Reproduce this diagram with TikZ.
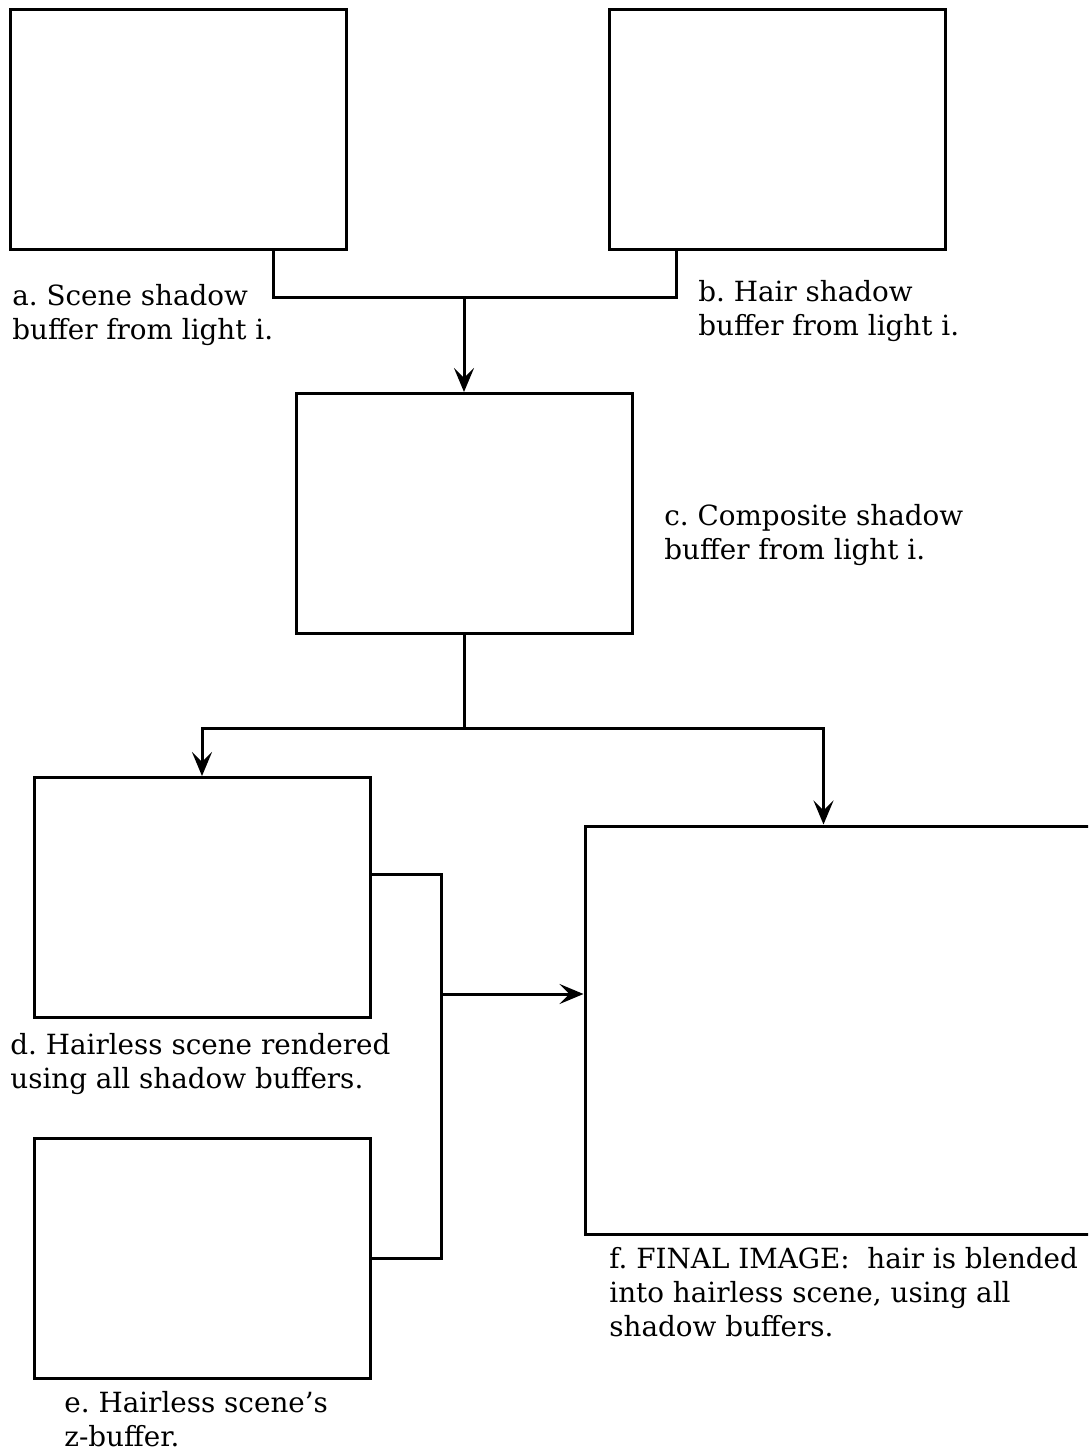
\documentclass[tikz,border=0pt]{standalone}
\usepackage{fontspec}
\setmainfont{DejaVu Serif}
\usetikzlibrary{arrows.meta}
\frenchspacing

\begin{document}
\begin{tikzpicture}[
  x=0.5pt, y=-0.5pt,
  buf/.style={draw, line width=1.5pt, minimum width=168pt, minimum height=120pt, inner sep=0pt},
  wire/.style={line width=1.5pt},
  arr/.style={line width=1.5pt, -{Stealth[length=12pt, width=10pt, inset=5pt]}},
  lbl/.style={anchor=west, align=left, inner sep=0pt, font=\fontsize{13.9}{17}\selectfont}
]
  \useasboundingbox (0,0) rectangle (1088,1452);
  \clip (0,0) rectangle (1088,1452);
  \node[buf] (a) at (178,129.5) {};
  \node[buf] (b) at (777,129.5) {};
  \node[buf] (c) at (464,513.5) {};
  \node[buf] (d) at (202,897.5) {};
  \node[buf] (e) at (202,1258) {};
  \node[buf, minimum width=257.5pt, minimum height=204pt] (f) at (842.5,1030) {};
  \node[lbl] (la) at (12,315) {a. Scene shadow\\buffer from light i.};
  \node[lbl] (lb) at (698,311) {b. Hair shadow\\buffer from light i.};
  \node[lbl] (lc) at (664,535) {c. Composite shadow\\buffer from light i.};
  \node[lbl] (ld) at (10,1064) {d. Hairless scene rendered\\using all shadow buffers.};
  \node[lbl] (le) at (64,1419) {e. Hairless scene's\\z-buffer.};
  \node[lbl] (lf) at (609,1292) {f. FINAL IMAGE:\ \ hair is blended\\into hairless scene, using all\\shadow buffers.};
  \coordinate (j1) at (464,297);
  \coordinate (j2) at (464,728);
  \coordinate (j3) at (441,994);
  \draw[wire] ([xshift=-37pt]a.south east) |- (j1) -| ([xshift=34.5pt]b.south west);
  \draw[arr] (j1) -- (c.north);
  \draw[wire] (c.south) -- (j2);
  \draw[arr] (j2) -| (d.north);
  \draw[arr] (j2) -| ([xshift=120pt]f.north west);
  \draw[wire] ([yshift=11.75pt]d.east) -| (j3) |- (e.east);
  \draw[arr] (j3) -- (j3 -| f.west);
\end{tikzpicture}
\end{document}
